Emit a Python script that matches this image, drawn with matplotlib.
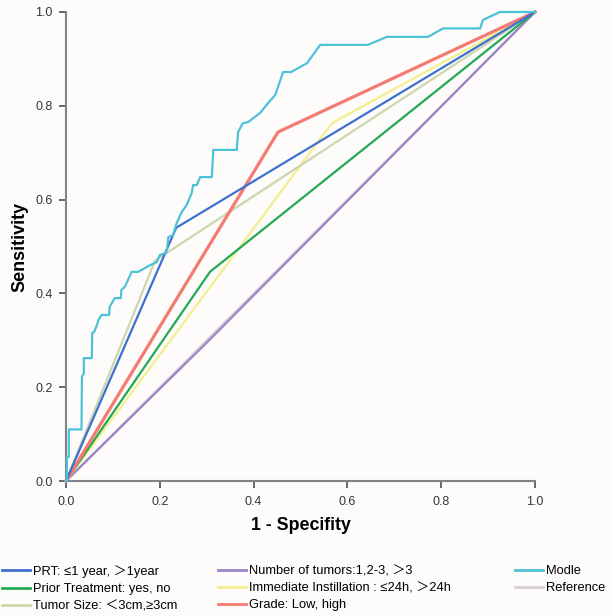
import matplotlib
matplotlib.use("Agg")
import matplotlib.pyplot as plt
from matplotlib.lines import Line2D

plt.rcParams['font.family'] = ['Liberation Sans', 'Noto Sans CJK SC', 'DejaVu Sans']

# ROC curves: (1 - specificity, sensitivity)
prt_fpr = [0.0, 0.235, 1.0]
prt_tpr = [0.0, 0.54, 1.0]

prior_fpr = [0.0, 0.307, 1.0]
prior_tpr = [0.0, 0.446, 1.0]

size_fpr = [0.0, 0.19, 1.0]
size_tpr = [0.0, 0.47, 1.0]

number_fpr = [0.0, 0.30, 1.0]
number_tpr = [0.0, 0.295, 1.0]

instill_fpr = [0.0, 0.567, 1.0]
instill_tpr = [0.0, 0.763, 1.0]

grade_fpr = [0.0, 0.452, 1.0]
grade_tpr = [0.0, 0.744, 1.0]

model_fpr = [0.0, 0.002, 0.002, 0.006, 0.006, 0.033, 0.034, 0.038, 0.038, 0.055,
             0.056, 0.060, 0.065, 0.070, 0.076, 0.092, 0.093, 0.104, 0.117, 0.118,
             0.126, 0.140, 0.154, 0.179, 0.194, 0.200, 0.213, 0.216, 0.218, 0.228,
             0.236, 0.247, 0.257, 0.268, 0.271, 0.279, 0.286, 0.311, 0.314, 0.364,
             0.367, 0.377, 0.388, 0.414, 0.431, 0.446, 0.452, 0.463, 0.480, 0.514,
             0.542, 0.644, 0.684, 0.772, 0.804, 0.883, 0.889, 0.925, 1.0]
model_tpr = [0.0, 0.0, 0.051, 0.051, 0.110, 0.110, 0.222, 0.230, 0.262, 0.262,
             0.316, 0.318, 0.330, 0.345, 0.354, 0.354, 0.371, 0.390, 0.390, 0.407,
             0.415, 0.446, 0.446, 0.460, 0.467, 0.482, 0.486, 0.497, 0.520, 0.524,
             0.550, 0.574, 0.588, 0.614, 0.631, 0.631, 0.648, 0.648, 0.706, 0.706,
             0.744, 0.763, 0.765, 0.785, 0.806, 0.823, 0.840, 0.872, 0.872, 0.891,
             0.930, 0.930, 0.947, 0.947, 0.965, 0.965, 0.983, 1.0, 1.0]

ref_fpr = [0.0, 1.0]
ref_tpr = [0.0, 1.0]

labels = ["PRT: \u22641 year, \uff1e1year",
          "Prior Treatment: yes, no",
          "Tumor Size: \uff1c3cm,\u22653cm",
          "Number of tumors:1,2-3, \uff1e3",
          "Immediate Instillation : \u226424h, \uff1e24h",
          "Grade: Low, high",
          "Modle",
          "Reference"]

colors = {
    "prt": "#3d70cf",
    "prior": "#23a956",
    "size": "#cdd6ae",
    "number": "#9b84c4",
    "instill": "#f3ef8e",
    "grade": "#f57a72",
    "model": "#4cc2d8",
    "ref": "#dccfd8",
}

fig = plt.figure(figsize=(6.11, 6.16), dpi=100)
fig.patch.set_facecolor("#fdfcfa")
ax = fig.add_axes([66 / 611, 1 - 481 / 616, 469 / 611, 469 / 616])
ax.set_facecolor("#fdfcfa")

lw = 1.6
ax.plot(ref_fpr, ref_tpr, color=colors["ref"], lw=lw, clip_on=False, zorder=2)
ax.plot(number_fpr, number_tpr, color=colors["number"], lw=lw, clip_on=False, zorder=3)
ax.plot(instill_fpr, instill_tpr, color=colors["instill"], lw=lw, clip_on=False, zorder=3)
ax.plot(prior_fpr, prior_tpr, color=colors["prior"], lw=lw, clip_on=False, zorder=4)
ax.plot(size_fpr, size_tpr, color=colors["size"], lw=lw, clip_on=False, zorder=3)
ax.plot(grade_fpr, grade_tpr, color=colors["grade"], lw=2.3, clip_on=False, zorder=4)
ax.plot(prt_fpr, prt_tpr, color=colors["prt"], lw=lw, clip_on=False, zorder=5)
ax.plot(model_fpr, model_tpr, color=colors["model"], lw=lw, clip_on=False, zorder=6)

ax.set_xlim(0, 1)
ax.set_ylim(0, 1)
ticks = [0.0, 0.2, 0.4, 0.6, 0.8, 1.0]
ax.set_xticks(ticks)
ax.set_yticks(ticks)
ax.set_xticklabels([f"{t:.1f}" for t in ticks])
ax.set_yticklabels([f"{t:.1f}" for t in ticks])
for side in ("top", "right"):
    ax.spines[side].set_visible(False)
for side in ("left", "bottom"):
    ax.spines[side].set_color("#7f8488")
    ax.spines[side].set_linewidth(1.5)
ax.tick_params(axis="both", direction="out", length=5, width=1.2, color="#4a5055",
               labelsize=9, labelcolor="#30383d", pad=4.5)
ax.tick_params(axis="x", pad=6)

ax.set_xlabel("1 - Specifity", fontsize=12.8, fontweight="bold", labelpad=6)
ax.set_ylabel("Sensitivity", fontsize=13, fontweight="bold", labelpad=5)

keys = ["prt", "prior", "size", "number", "instill", "grade", "model", "ref"]
handles = [Line2D([0], [0], color=colors[k], lw=2.0) for k in keys]

groups = [(0, 3, 2 / 611), (3, 6, 218 / 611), (6, 8, 515 / 611)]
for start, stop, xpos in groups:
    fig.legend(handles[start:stop], labels[start:stop], loc="upper left",
               bbox_to_anchor=(xpos, 1 - 565 / 616), frameon=False,
               fontsize=9.3, handlelength=2.2, handletextpad=0.2,
               labelspacing=0.4, borderpad=0.0, borderaxespad=0.0)

fig.savefig("out.png", dpi=100, facecolor=fig.get_facecolor())
